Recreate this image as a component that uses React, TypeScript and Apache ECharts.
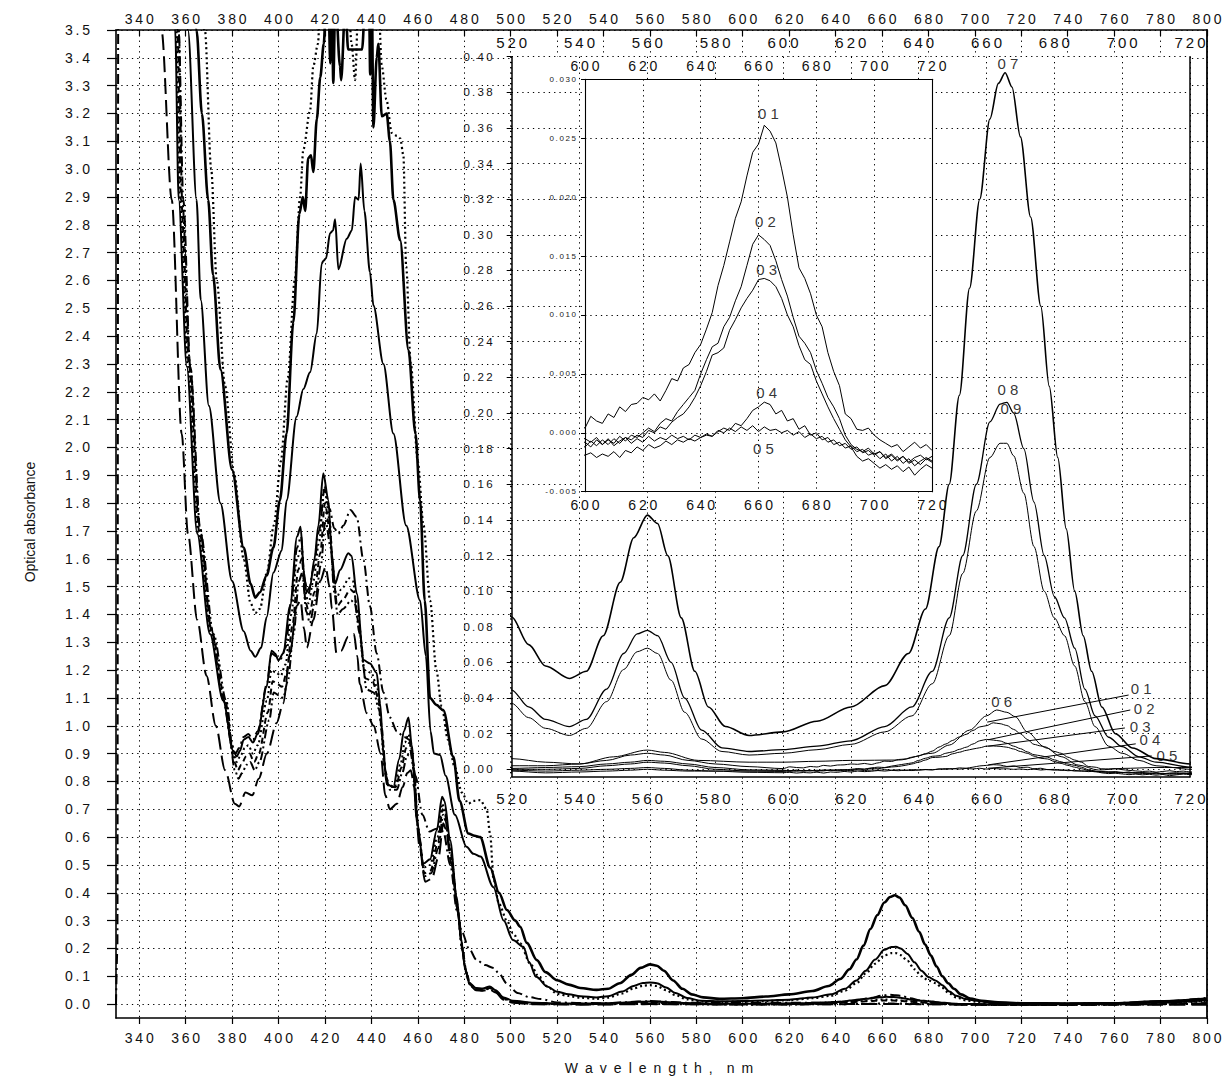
import React, { useEffect, useRef } from "react";
import * as echarts from "echarts";

// ---------------- tick labels ----------------
const ticksWl = [340, 360, 380, 400, 420, 440, 460, 480, 500, 520, 540, 560, 580, 600, 620, 640, 660, 680, 700, 720, 740, 760, 780, 800];
const ticksAbs = [0, 0.1, 0.2, 0.3, 0.4, 0.5, 0.6, 0.7, 0.8, 0.9, 1.0, 1.1, 1.2, 1.3, 1.4, 1.5, 1.6, 1.7, 1.8, 1.9, 2.0, 2.1, 2.2, 2.3, 2.4, 2.5, 2.6, 2.7, 2.8, 2.9, 3.0, 3.1, 3.2, 3.3, 3.4, 3.5];
const ticksInsetAbs = [0, 0.02, 0.04, 0.06, 0.08, 0.1, 0.12, 0.14, 0.16, 0.18, 0.2, 0.22, 0.24, 0.26, 0.28, 0.3, 0.32, 0.34, 0.36, 0.38, 0.4];

// ---------------- spectra 07, 08, 09 (wavelength nm, absorbance) ----------------
const spec07 = [[360,3.9],[364.7,3.5],[367,3.2],[369.7,2.89],[371.8,2.62],[375,2.28],[380,1.92],[385,1.64],[388,1.51],[390,1.46],[392,1.48],[394.9,1.54],[397.8,1.64],[400.6,1.81],[403.5,2.05],[406.4,2.45],[409,2.84],[410.5,2.9],[411.5,2.85],[412.8,3.04],[414,3.05],[415,2.99],[416.5,3.18],[418,3.33],[419.5,3.45],[420.5,3.6],[421.5,3.62],[422.3,3.38],[423,3.62],[423.6,3.31],[424.5,3.62],[426.5,3.37],[427,3.32],[428.8,3.6],[430,3.43],[433,3.43],[436,3.43],[437.5,3.62],[439,3.62],[439.5,3.34],[440.2,3.62],[440.9,3.15],[442.3,3.4],[443,3.45],[444.5,3.19],[446.6,3.2],[448,3.1],[449.5,2.89],[452.4,2.745],[456,2.35],[459,2.05],[461,1.81],[463,1.45],[465.3,1.1],[468,1.075],[471,1.056],[475.3,0.889],[478,0.73],[481.8,0.613],[484.5,0.605],[486.9,0.6],[491.2,0.49],[495,0.4],[498.4,0.338],[502,0.3],[504.1,0.278],[507,0.22],[511.3,0.158],[515,0.115],[520,0.0855],[525,0.07],[530,0.058],[537,0.051],[542,0.055],[547,0.075],[552,0.105],[556,0.13],[560,0.1427],[563,0.138],[566,0.12],[570,0.085],[574,0.055],[578,0.035],[583,0.024],[590,0.019],[600,0.021],[610,0.027],[620,0.035],[630,0.047],[637,0.065],[642,0.09],[646,0.125],[649,0.16],[652,0.21],[655,0.27],[658,0.32],[661,0.365],[663.5,0.385],[665.5,0.391],[667.5,0.383],[670,0.355],[673,0.31],[676,0.26],[678.5,0.215],[681,0.175],[683.5,0.135],[686,0.1],[688.5,0.075],[691,0.055],[694,0.035],[698,0.02],[703,0.012],[710,0.006],[720,0.003],[740,0.002],[760,0.003],[780,0.01],[800,0.02]];

const spec08 = [[357,3.9],[361,3.5],[364.7,2.89],[366.5,2.53],[370,2.15],[375,1.8],[380,1.52],[385,1.34],[388,1.27],[390,1.248],[392.5,1.28],[394.9,1.39],[397.8,1.55],[401.4,1.63],[403.5,1.81],[407.8,2.11],[410.7,2.21],[413.6,2.27],[416.5,2.41],[418.6,2.66],[419.3,2.67],[420.5,2.68],[422.2,2.77],[423.5,2.78],[424.4,2.82],[425.8,2.64],[429.4,2.75],[431.6,2.78],[433,2.9],[434.5,2.89],[435.4,3.02],[437,2.85],[439.4,2.63],[440.9,2.51],[445.2,2.3],[449.5,2.05],[455,1.72],[461,1.45],[463.5,1.25],[465.5,0.98],[467,0.9],[469.6,0.895],[472,0.82],[476,0.68],[481,0.565],[484,0.54],[487,0.53],[492.6,0.42],[497,0.3],[501,0.23],[505.5,0.206],[508,0.15],[511,0.098],[516,0.062],[520,0.0445],[525,0.035],[530,0.028],[537,0.024],[542,0.028],[548,0.045],[553,0.065],[557,0.076],[560,0.078],[563,0.075],[567,0.06],[571,0.04],[576,0.022],[582,0.012],[590,0.01],[600,0.011],[610,0.013],[620,0.016],[630,0.024],[638,0.035],[644,0.055],[649,0.085],[653,0.12],[657,0.16],[661,0.195],[664,0.205],[666,0.206],[668,0.2],[671,0.18],[674,0.15],[677,0.12],[680,0.097],[683,0.085],[686,0.068],[689,0.045],[692,0.03],[696,0.018],[700,0.0127],[705,0.007],[710,0.004],[720,0.0012],[740,0.001],[760,0.002],[780,0.008],[800,0.016]];

const spec09 = [[362,3.9],[368.3,3.5],[371,3.0],[373.4,2.6],[377,2.22],[381,1.9],[385,1.6],[388,1.44],[390,1.405],[392,1.42],[395,1.55],[398,1.72],[401,1.95],[404,2.25],[407,2.6],[409.3,2.9],[410.7,3.07],[413.6,3.21],[415,3.37],[417,3.45],[418,3.6],[430,3.62],[431.5,3.45],[433,3.32],[434.5,3.62],[443,3.62],[444.5,3.37],[446.5,3.25],[448.8,3.13],[451,3.12],[452.5,3.11],[453.8,3.05],[455,2.65],[457,2.3],[460,1.95],[462.5,1.72],[465.3,1.45],[468,1.2],[470.3,1.07],[473,0.95],[476,0.85],[479,0.76],[481.8,0.72],[484,0.73],[486.9,0.733],[489.7,0.7],[491.2,0.61],[492.6,0.45],[495,0.36],[498.4,0.3],[501,0.255],[504.1,0.218],[508.4,0.146],[512,0.1],[515.6,0.065],[520,0.037],[525,0.029],[530,0.023],[537,0.019],[542,0.023],[548,0.038],[553,0.056],[557,0.066],[560,0.068],[563,0.065],[567,0.05],[571,0.032],[576,0.017],[582,0.01],[590,0.008],[600,0.009],[610,0.011],[620,0.014],[630,0.021],[638,0.03],[644,0.048],[649,0.075],[653,0.11],[657,0.145],[661,0.175],[664,0.183],[666,0.183],[668,0.176],[671,0.155],[674,0.125],[677,0.1],[680,0.085],[683,0.075],[686,0.058],[689,0.038],[692,0.024],[696,0.013],[700,0.009],[705,0.005],[710,0.002],[720,0.0],[740,0.0],[760,0.002],[780,0.006],[800,0.012]];

// ---------------- spectrum 06 ----------------
const spec06 = [[330,0.0],[330.6,0.2],[331,3.9],[355.5,3.9],[357,3.5],[359,2.89],[362,2.29],[366,1.72],[371,1.35],[376,1.1],[380,0.93],[381.5,0.9],[383,0.92],[385,0.96],[387,0.97],[389,0.95],[391,0.98],[395,1.15],[397,1.26],[399,1.25],[401,1.24],[403,1.28],[405.5,1.45],[408,1.64],[409.7,1.68],[411.3,1.52],[412.8,1.47],[415,1.56],[417.5,1.7],[419.8,1.85],[422,1.78],[424,1.71],[425.8,1.69],[428,1.72],[431,1.775],[433.7,1.75],[436.6,1.595],[439.4,1.43],[442.3,1.26],[445.2,1.12],[448,1.03],[451,0.98],[454,0.96],[456.5,0.95],[459,0.82],[462,0.68],[465,0.62],[468,0.63],[471,0.62],[474,0.5],[477,0.33],[479,0.26],[482,0.2],[485.4,0.158],[489,0.14],[492.6,0.13],[495,0.11],[498.4,0.074],[503,0.04],[508,0.025],[513,0.018],[520,0.006],[530,0.004],[540,0.003],[550,0.007],[560,0.0108],[565,0.0095],[575,0.005],[590,0.004],[600,0.004],[610,0.0045],[620,0.005],[634,0.0052],[644,0.009],[649,0.0136],[655,0.022],[660,0.03],[663,0.0333],[666,0.032],[668.5,0.0295],[672,0.021],[677,0.0127],[682,0.0071],[687,0.0024],[693,-0.0004],[700,0.0005],[710,0.001],[720,0.001],[740,0.002],[760,0.004],[780,0.01],[800,0.022]];

// ---------------- spectra 01-05: short-wave part (< 600 nm) ----------------
const blue01 = [[354,3.8],[355.5,3.5],[357,2.89],[360.5,2.29],[365,1.69],[370.5,1.33],[376.2,1.09],[380.5,0.91],[382,0.89],[383.4,0.91],[385,0.95],[387,0.96],[389,0.94],[391,0.97],[394.9,1.14],[397,1.27],[398.5,1.26],[400,1.235],[402,1.26],[405,1.43],[408,1.68],[409.5,1.715],[411,1.55],[412,1.48],[413.6,1.5],[415.5,1.6],[417.2,1.72],[419.3,1.907],[421.5,1.81],[422.9,1.62],[424.4,1.51],[426.5,1.56],[430.1,1.62],[431.5,1.61],[433.7,1.475],[436.6,1.236],[439.4,1.224],[442.3,1.19],[443.8,1.08],[445.2,0.9],[446.6,0.79],[449.5,0.78],[452,0.88],[454,0.98],[456,1.03],[457.4,0.93],[459.6,0.66],[462.4,0.505],[465.3,0.52],[468.2,0.625],[470.5,0.745],[471.5,0.73],[473.9,0.59],[476.8,0.385],[478.5,0.24],[480.4,0.13],[482,0.078],[485,0.058],[488,0.056],[491,0.063],[493.5,0.05],[497,0.024],[501,0.012],[510,0.005],[520,0.002],[530,0.002],[540,0.003],[548,0.005],[555,0.008],[560,0.009],[565,0.008],[572,0.005],[580,0.003],[590,0.0015]];
const blue02 = [[354.5,3.8],[356,3.5],[357.5,2.89],[361,2.29],[365.5,1.69],[371,1.33],[376.5,1.09],[380.5,0.9],[382,0.87],[383.5,0.89],[385.5,0.92],[387,0.93],[389,0.9],[391,0.93],[395,1.09],[397,1.2],[399,1.19],[401,1.18],[403,1.22],[405.5,1.4],[408,1.6],[409.8,1.64],[411.5,1.48],[413,1.44],[415,1.52],[417.5,1.66],[419.8,1.86],[422,1.74],[423.5,1.56],[425,1.46],[427,1.49],[430.5,1.53],[432,1.52],[434,1.41],[437,1.2],[440,1.19],[442.5,1.14],[444,1.02],[445.5,0.86],[447,0.79],[450,0.78],[452.5,0.86],[454.5,0.94],[456,0.97],[457.5,0.9],[460,0.64],[462.5,0.49],[465.3,0.5],[468.5,0.6],[470.5,0.72],[471.5,0.7],[474,0.56],[477,0.36],[478.7,0.225],[480.6,0.122],[482.2,0.074],[485,0.056],[488,0.054],[491,0.06],[493.5,0.048],[497,0.022],[501,0.01],[510,0.003],[520,0.0005],[530,0.001],[540,0.0015],[548,0.003],[555,0.004],[560,0.005],[565,0.0045],[572,0.003],[580,0.001],[590,-0.0003]];
const blue03 = [[355,3.8],[356.5,3.5],[358,2.89],[361.5,2.29],[366,1.69],[371.5,1.33],[377,1.09],[381,0.87],[382.5,0.84],[384,0.86],[386,0.89],[387.5,0.9],[389.5,0.87],[391.5,0.9],[395.5,1.05],[397.5,1.16],[399.5,1.15],[401.5,1.14],[403.5,1.19],[406,1.36],[408.5,1.56],[410,1.6],[411.8,1.44],[413.3,1.4],[415.5,1.48],[418,1.62],[420,1.8],[422.3,1.69],[423.8,1.52],[425.3,1.43],[427.5,1.45],[431,1.49],[432.5,1.48],[434.5,1.37],[437.5,1.17],[440.5,1.16],[443,1.1],[444.5,0.99],[446,0.84],[447.5,0.78],[450.5,0.78],[453,0.85],[455,0.92],[456.5,0.94],[458,0.87],[460.3,0.62],[462.8,0.47],[465.5,0.48],[468.7,0.58],[470.7,0.7],[471.7,0.68],[474.2,0.54],[477.2,0.34],[478.9,0.21],[480.8,0.115],[482.4,0.07],[485,0.054],[488,0.052],[491,0.058],[493.5,0.046],[497,0.02],[501,0.008],[510,0.002],[520,0.0],[530,0.0],[540,0.0005],[548,0.002],[555,0.003],[560,0.004],[565,0.0035],[572,0.002],[580,0.0],[590,-0.001]];
const blue04 = [[355.5,3.8],[357,3.5],[358.5,2.89],[362,2.29],[366.5,1.69],[372,1.33],[377.5,1.09],[381.2,0.84],[382.8,0.81],[384.3,0.83],[386.3,0.86],[387.8,0.87],[389.8,0.84],[391.8,0.87],[396,1.02],[398,1.12],[400,1.11],[402,1.1],[404,1.16],[406.5,1.33],[408.8,1.52],[410.2,1.55],[412,1.41],[413.5,1.37],[415.8,1.45],[418.3,1.58],[420.2,1.74],[422.5,1.64],[424,1.48],[425.5,1.4],[427.8,1.42],[431.3,1.45],[432.8,1.44],[435,1.33],[438,1.13],[441,1.12],[443.3,1.06],[444.8,0.96],[446.3,0.82],[448,0.77],[451,0.77],[453.3,0.83],[455.3,0.89],[456.8,0.91],[458.3,0.84],[460.5,0.6],[463,0.46],[465.7,0.47],[468.9,0.56],[470.9,0.68],[471.9,0.66],[474.4,0.52],[477.4,0.33],[479.1,0.2],[481,0.11],[482.6,0.068],[485,0.052],[488,0.05],[491,0.055],[493.5,0.044],[497,0.018],[501,0.006],[510,0.0],[520,-0.0005],[530,-0.001],[540,-0.0005],[548,0.0],[555,0.0005],[560,0.001],[565,0.0005],[572,-0.0005],[580,-0.001],[590,-0.0017]];
const blue05 = [[348.5,3.8],[349.6,3.5],[354,2.89],[358.3,2.05],[361,1.69],[365,1.38],[369,1.18],[373,1.0],[377,0.84],[381.2,0.72],[383,0.71],[385.8,0.76],[388.7,0.75],[391.5,0.81],[395,0.9],[399.2,1.01],[402,1.08],[405,1.26],[407.8,1.43],[409.5,1.45],[411,1.35],[412.2,1.28],[415,1.38],[418,1.52],[420.3,1.57],[422,1.5],[423,1.42],[425,1.26],[427,1.27],[430,1.32],[432.5,1.33],[434,1.25],[435,1.15],[438,1.045],[441,1.0],[444,0.9],[446,0.75],[448,0.7],[451,0.72],[453.5,0.78],[455.5,0.83],[457,0.84],[458.5,0.78],[460.7,0.57],[463.2,0.44],[466,0.45],[469,0.53],[471,0.65],[472,0.63],[474.6,0.5],[477.6,0.32],[479.3,0.19],[481.2,0.105],[482.8,0.065],[485,0.05],[488,0.048],[491,0.052],[493.5,0.042],[497,0.016],[501,0.005],[510,-0.001],[520,-0.001],[530,-0.002],[540,-0.0015],[548,-0.001],[555,-0.0005],[560,0.0],[565,-0.0005],[572,-0.001],[580,-0.001],[590,-0.0009]];

// ---------------- spectra 01-05: red part (600-720 nm, 2 nm step) ----------------
const redWl = [600,602,604,606,608,610,612,614,616,618,620,622,624,626,628,630,632,634,636,638,640,642,644,646,648,650,652,654,656,658,660,662,664,666,668,670,672,674,676,678,680,682,684,686,688,690,692,694,696,698,700,702,704,706,708,710,712,714,716,718,720];
const red01 = [0.0004,0.0014,0.0010,0.0008,0.0016,0.0013,0.0022,0.0018,0.0024,0.0025,0.0030,0.0028,0.0033,0.0027,0.0036,0.0046,0.0044,0.0055,0.0058,0.0068,0.0075,0.0088,0.0102,0.0125,0.0142,0.0162,0.0182,0.0196,0.0218,0.0238,0.0245,0.0261,0.0256,0.0246,0.0224,0.0200,0.0168,0.0140,0.0131,0.0118,0.0100,0.0090,0.0068,0.0052,0.0040,0.0016,0.0012,0.0003,0.0002,0.0004,-0.0002,-0.0006,-0.0009,-0.0012,-0.0010,-0.0016,-0.0012,-0.0008,-0.0013,-0.0010,-0.0015];
const red02 = [-0.0005,-0.0008,-0.0004,-0.0010,-0.0006,-0.0009,-0.0003,-0.0007,-0.0002,-0.0004,0.0000,0.0004,0.0001,0.0008,0.0012,0.0010,0.0018,0.0024,0.0030,0.0036,0.0050,0.0062,0.0073,0.0076,0.0090,0.0098,0.0112,0.0124,0.0142,0.0160,0.0168,0.0164,0.0159,0.0146,0.0130,0.0116,0.0098,0.0082,0.0076,0.0068,0.0053,0.0042,0.0030,0.0022,0.0012,-0.0002,-0.0010,-0.0014,-0.0016,-0.0013,-0.0018,-0.0016,-0.0022,-0.0019,-0.0024,-0.0020,-0.0026,-0.0023,-0.0027,-0.0022,-0.0025];
const red03 = [-0.0012,-0.0007,-0.0011,-0.0006,-0.0010,-0.0005,-0.0009,-0.0004,-0.0006,-0.0002,-0.0004,0.0002,0.0000,0.0005,0.0003,0.0009,0.0013,0.0016,0.0022,0.0030,0.0040,0.0052,0.0066,0.0068,0.0072,0.0087,0.0096,0.0106,0.0114,0.0121,0.0130,0.0131,0.0129,0.0124,0.0114,0.0100,0.0090,0.0074,0.0062,0.0058,0.0044,0.0033,0.0022,0.0012,0.0003,-0.0006,-0.0012,-0.0020,-0.0024,-0.0022,-0.0026,-0.0030,-0.0027,-0.0031,-0.0028,-0.0033,-0.0029,-0.0036,-0.0031,-0.0027,-0.0030];
const red04 = [-0.0019,-0.0017,-0.0021,-0.0018,-0.0020,-0.0016,-0.0021,-0.0015,-0.0017,-0.0012,-0.0015,-0.0010,-0.0013,-0.0011,-0.0007,-0.0010,-0.0006,-0.0008,-0.0005,-0.0007,-0.0004,-0.0002,-0.0003,0.0001,0.0004,0.0002,0.0008,0.0006,0.0012,0.0019,0.0022,0.0026,0.0024,0.0016,0.0019,0.0010,0.0012,0.0003,0.0006,-0.0002,0.0000,-0.0006,-0.0004,-0.0010,-0.0008,-0.0013,-0.0011,-0.0016,-0.0014,-0.0019,-0.0017,-0.0022,-0.0018,-0.0024,-0.0020,-0.0026,-0.0022,-0.0028,-0.0024,-0.0021,-0.0024];
const red05 = [-0.0008,-0.0012,-0.0006,-0.0010,-0.0005,-0.0011,-0.0007,-0.0004,-0.0009,-0.0005,-0.0008,-0.0003,-0.0007,-0.0004,-0.0006,-0.0002,-0.0005,-0.0003,-0.0006,-0.0002,-0.0004,-0.0001,-0.0003,0.0002,0.0000,0.0004,0.0001,0.0005,0.0002,0.0006,0.0001,0.0005,0.0002,0.0003,0.0000,0.0002,-0.0002,0.0001,-0.0004,-0.0001,-0.0005,-0.0003,-0.0008,-0.0006,-0.0011,-0.0009,-0.0014,-0.0012,-0.0017,-0.0015,-0.0019,-0.0016,-0.0021,-0.0018,-0.0023,-0.0020,-0.0025,-0.0021,-0.0019,-0.0023,-0.0020];

// ---------------- spectra 01-05: tail (> 720 nm) ----------------
const tail01 = [[730,-0.001],[740,0.0],[760,0.002],[780,0.006],[800,0.015]];
const tail02 = [[730,-0.0025],[740,-0.002],[760,0.0],[780,0.004],[800,0.01]];
const tail03 = [[730,-0.003],[740,-0.003],[760,-0.001],[780,0.0],[800,0.004]];
const tail04 = [[730,-0.0024],[740,-0.002],[760,-0.002],[780,-0.001],[800,0.002]];
const tail05 = [[730,-0.002],[740,-0.002],[760,-0.002],[780,-0.002],[800,-0.002]];

// ---------------- annotation anchors (data coordinates) ----------------
const inset1Labels = [
  { name: "07", value: [666.3, 0.396] },
  { name: "08", value: [666.3, 0.213] },
  { name: "09", value: [667.2, 0.2027] },
  { name: "06", value: [664.5, 0.0383] },
  { name: "01", value: [705.6, 0.0452] },
  { name: "02", value: [706.5, 0.0344] },
  { name: "03", value: [705.3, 0.0243] },
  { name: "04", value: [708.2, 0.0165] },
  { name: "05", value: [713.2, 0.008] },
];
const inset1Leaders = [
  [[701.9, 0.0417], [660.2, 0.0265]],
  [[702.4, 0.0333], [660.5, 0.0166]],
  [[700.8, 0.0232], [660.5, 0.013]],
  [[704.0, 0.0143], [660.5, 0.0025]],
  [[708.7, 0.0075], [660.5, 0.0006]],
];
const inset2Labels = [
  { name: "01", value: [663.4, 0.0271] },
  { name: "02", value: [662.4, 0.0179] },
  { name: "03", value: [662.8, 0.0139] },
  { name: "04", value: [662.8, 0.0034] },
  { name: "05", value: [661.7, -0.0013] },
];

const FONT = "'Liberation Sans', Arial, Helvetica, sans-serif";
const TS = "\u2009";
const spaced = (s: string, sep: string = TS) => s.split("").join(sep);

function assemble(blue: number[][], red: number[], tail: number[][]) {
  return [...blue, ...redWl.map((w, i) => [w, red[i]]), ...tail];
}

const spec01 = assemble(blue01, red01, tail01);
const spec02 = assemble(blue02, red02, tail02);
const spec03 = assemble(blue03, red03, tail03);
const spec04 = assemble(blue04, red04, tail04);
const spec05 = assemble(blue05, red05, tail05);

const gridLine = { show: true, lineStyle: { color: "#000", width: 1, type: [1.3, 4] as any, cap: "butt" } };
const axisLine = (w: number) => ({ show: true, onZero: false, lineStyle: { color: "#000", width: w } });
const noTick = { show: false };
const noLabel = { show: false };
const noSplit = { show: false };

function lineSeries(name: string, data: number[][], ax: number, style: any, z: number, smooth: number | boolean) {
  return {
    type: "line",
    name,
    data,
    xAxisIndex: ax,
    yAxisIndex: ax,
    showSymbol: false,
    symbol: "none",
    smooth,
    smoothMonotone: "x",
    clip: true,
    silent: true,
    z,
    lineStyle: { color: "#000", cap: "butt", join: "round", ...style },
  };
}

export default function App() {
  const ref = useRef<HTMLDivElement>(null);
  useEffect(() => {
    if (!ref.current) return;
    const chart = echarts.init(ref.current, null, { renderer: "svg" });

    const mainStyles: [string, number[][], any][] = [
      ["07", spec07, { width: 2.6, type: "solid" }],
      ["08", spec08, { width: 2.0, type: "solid" }],
      ["09", spec09, { width: 2.2, type: [2, 3] }],
      ["01", spec01, { width: 2.0, type: "solid" }],
      ["02", spec02, { width: 2.0, type: [2, 3] }],
      ["03", spec03, { width: 2.0, type: [6, 4] }],
      ["04", spec04, { width: 2.0, type: [9, 3, 2, 3, 2, 3] }],
      ["05", spec05, { width: 2.0, type: [16, 6] }],
      ["06", spec06, { width: 2.0, type: [10, 4, 2, 4] }],
    ];
    const inset1Styles: [string, number[][], number][] = [
      ["07", spec07, 1.6],
      ["08", spec08, 1.3],
      ["09", spec09, 1.0],
      ["01", spec01, 1.0],
      ["02", spec02, 1.0],
      ["03", spec03, 1.0],
      ["04", spec04, 1.0],
      ["05", spec05, 1.0],
      ["06", spec06, 1.0],
    ];
    const inset2Styles: [string, number[][]][] = [
      ["01", spec01],
      ["02", spec02],
      ["03", spec03],
      ["04", spec04],
      ["05", spec05],
    ];

    const labelText = (fontSize: number) => ({
      show: true,
      position: "inside",
      formatter: (p: any) => spaced(p.name, " "),
      color: "#000",
      fontSize,
      fontFamily: FONT,
    });

    const series: any[] = [
      ...mainStyles.map(([n, d, s]) => lineSeries("main" + n, d, 0, s, 2, 0.3)),
      ...inset1Styles.map(([n, d, w]) => lineSeries("in1_" + n, d, 2, { width: w, type: "solid" }, 5, 0.3)),
      ...inset2Styles.map(([n, d]) => lineSeries("in2_" + n, d, 4, { width: 1, type: "solid" }, 8, false)),
      {
        type: "scatter",
        name: "labels1",
        xAxisIndex: 2,
        yAxisIndex: 2,
        data: inset1Labels,
        symbol: "circle",
        symbolSize: 1,
        itemStyle: { color: "transparent" },
        label: labelText(15),
        silent: true,
        z: 9,
        markLine: {
          silent: true,
          symbol: ["none", "none"],
          label: { show: false },
          lineStyle: { color: "#000", width: 1, type: "solid" },
          data: inset1Leaders.map(([a, b]) => [{ coord: a }, { coord: b }]),
        },
      },
      {
        type: "scatter",
        name: "labels2",
        xAxisIndex: 4,
        yAxisIndex: 4,
        data: inset2Labels,
        symbol: "circle",
        symbolSize: 1,
        itemStyle: { color: "transparent" },
        label: labelText(15),
        silent: true,
        z: 9,
      },
    ];

    const mainLabel = (custom: number[], margin: number, fmt: (v: number) => string) => ({
      show: true,
      customValues: custom,
      margin,
      formatter: fmt,
      color: "#111",
      fontSize: 14,
      fontFamily: FONT,
    });

    const option: any = {
      animation: false,
      backgroundColor: "#fff",
      grid: [
        { left: 116, top: 30, width: 1091, height: 988, containLabel: false, outerBoundsMode: "none", show: false, z: 0 },
        { left: 511.7, top: 56.7, width: 678.3, height: 720, containLabel: false, outerBoundsMode: "none", show: true, backgroundColor: "#fff", borderWidth: 0, z: 3 },
        { left: 585, top: 79.3, width: 347, height: 412.4, containLabel: false, outerBoundsMode: "none", show: true, backgroundColor: "#fff", borderWidth: 0, z: 6 },
      ],
      xAxis: [
        {
          type: "value", gridIndex: 0, position: "bottom", min: 330, max: 800, z: 1,
          axisLine: axisLine(1.6),
          axisTick: { show: true, inside: false, length: 6, customValues: ticksWl, lineStyle: { color: "#000", width: 1.2 } },
          axisLabel: mainLabel(ticksWl, 13, (v: number) => spaced(String(v))),
          splitLine: gridLine,
        },
        {
          type: "value", gridIndex: 0, position: "top", min: 330, max: 800, z: 1,
          axisLine: axisLine(1.6),
          axisTick: { show: true, inside: true, length: 6, customValues: ticksWl, lineStyle: { color: "#000", width: 1.2 } },
          axisLabel: mainLabel(ticksWl, 4, (v: number) => spaced(String(v))),
          splitLine: noSplit,
        },
        {
          type: "value", gridIndex: 1, position: "bottom", min: 520, max: 720, interval: 20, z: 4,
          axisLine: axisLine(1.5),
          axisTick: noTick,
          axisLabel: { show: true, margin: 14, color: "#111", fontSize: 15, fontFamily: FONT, formatter: (v: number) => spaced(String(v)) },
          splitLine: gridLine,
        },
        {
          type: "value", gridIndex: 1, position: "top", min: 520, max: 720, interval: 20, z: 4,
          axisLine: { show: false, onZero: false },
          axisTick: noTick,
          axisLabel: { show: true, margin: 7, color: "#111", fontSize: 15, fontFamily: FONT, formatter: (v: number) => spaced(String(v)) },
          splitLine: noSplit,
        },
        {
          type: "value", gridIndex: 2, position: "bottom", min: 600, max: 720, interval: 20, z: 7,
          axisLine: axisLine(1.1),
          axisTick: noTick,
          axisLabel: { show: true, margin: 6, color: "#111", fontSize: 14, fontFamily: FONT, formatter: (v: number) => spaced(String(v)) },
          splitLine: gridLine,
        },
        {
          type: "value", gridIndex: 2, position: "top", min: 600, max: 720, interval: 20, z: 7,
          axisLine: axisLine(1.1),
          axisTick: noTick,
          axisLabel: { show: true, margin: 6, color: "#111", fontSize: 14, fontFamily: FONT, formatter: (v: number) => spaced(String(v)) },
          splitLine: noSplit,
        },
      ],
      yAxis: [
        {
          type: "value", gridIndex: 0, position: "left", min: -0.05, max: 3.5, z: 1,
          axisLine: axisLine(1.6),
          axisTick: { show: true, inside: false, length: 9, customValues: ticksAbs, lineStyle: { color: "#000", width: 1.2 } },
          axisLabel: mainLabel(ticksAbs, 26, (v: number) => spaced(v.toFixed(1))),
          splitLine: gridLine,
        },
        {
          type: "value", gridIndex: 0, position: "right", min: -0.05, max: 3.5, z: 1,
          axisLine: axisLine(1.8), axisTick: noTick, axisLabel: noLabel, splitLine: noSplit,
        },
        {
          type: "value", gridIndex: 1, position: "left", min: -0.00415, max: 0.4, z: 4,
          axisLine: axisLine(1.5),
          axisTick: { show: true, inside: false, length: 5, customValues: ticksInsetAbs, lineStyle: { color: "#000", width: 1 } },
          axisLabel: { show: true, customValues: ticksInsetAbs, margin: 19, color: "#111", fontSize: 11.5, fontFamily: FONT, formatter: (v: number) => spaced(v.toFixed(2)) },
          splitLine: gridLine,
        },
        {
          type: "value", gridIndex: 1, position: "right", min: -0.00415, max: 0.4, z: 4,
          axisLine: axisLine(1.5), axisTick: noTick, axisLabel: noLabel, splitLine: noSplit,
        },
        {
          type: "value", gridIndex: 2, position: "left", min: -0.005, max: 0.03, interval: 0.005, z: 7,
          axisLine: axisLine(1.1),
          axisTick: { show: true, inside: false, length: 4, lineStyle: { color: "#000", width: 1 } },
          axisLabel: { show: true, margin: 9, color: "#222", fontSize: 8, fontFamily: FONT, formatter: (v: number) => spaced(v.toFixed(3)) },
          splitLine: gridLine,
        },
        {
          type: "value", gridIndex: 2, position: "right", min: -0.005, max: 0.03, z: 7,
          axisLine: axisLine(1.1), axisTick: noTick, axisLabel: noLabel, splitLine: noSplit,
        },
      ],
      graphic: [
        {
          type: "text", x: 30, y: 522, rotation: Math.PI / 2, z: 10,
          style: { text: "Optical absorbance", fontSize: 14, fontFamily: FONT, fill: "#111", textAlign: "center", textVerticalAlign: "middle" },
        },
        {
          type: "text", x: 659, y: 1068, z: 10,
          style: { text: "W\u2002a\u2002v\u2002e\u2002l\u2002e\u2002n\u2002g\u2002t\u2002h\u2002,\u2002\u2002n\u2002m", fontSize: 14, fontFamily: FONT, fill: "#111", textAlign: "center", textVerticalAlign: "middle" },
        },
      ],
      series,
    };

    chart.setOption(option);
    return () => chart.dispose();
  }, []);

  return (
    <div
      ref={ref}
      style={{ position: "fixed", left: 0, top: 0, width: 1222, height: 1083, background: "#fff" }}
    />
  );
}
